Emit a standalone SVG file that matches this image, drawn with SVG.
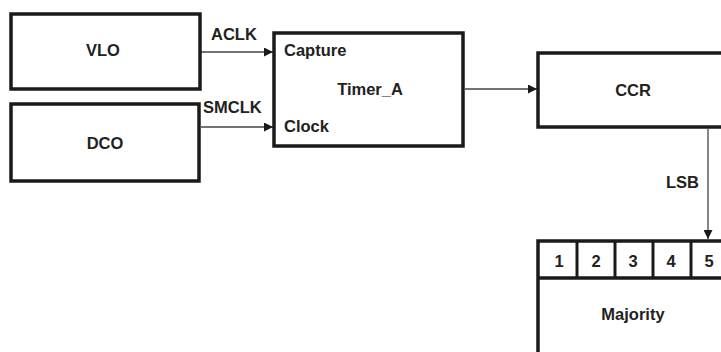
<svg xmlns="http://www.w3.org/2000/svg" width="721" height="352" viewBox="0 0 721 352">
<style>
.box{fill:#fff;stroke:#1a1a1a;stroke-width:3.5}
.t{font-family:"Liberation Sans",Arial,sans-serif;font-weight:bold;font-size:16.5px;fill:#222}
.m{text-anchor:middle}
.c{stroke:#444;stroke-width:1.3;fill:none}
.d{stroke:#1a1a1a;stroke-width:3}
</style>
<defs>
<marker id="ah" viewBox="0 0 10 10" refX="10" refY="5" markerWidth="9" markerHeight="9" markerUnits="userSpaceOnUse" orient="auto">
<path d="M0,0 L10,5 L0,10 z" fill="#1a1a1a"/>
</marker>
</defs>
<rect width="721" height="352" fill="#fff"/>
<g id="connectors">
<line class="c" x1="201" y1="52" x2="273" y2="52" marker-end="url(#ah)"/>
<text class="t" x="211" y="40">ACLK</text>
<line class="c" x1="201" y1="127" x2="273" y2="127" marker-end="url(#ah)"/>
<text class="t" x="203" y="113">SMCLK</text>
<line class="c" x1="465" y1="89" x2="537" y2="89" marker-end="url(#ah)"/>
<line class="c" x1="708" y1="129" x2="708" y2="239" marker-end="url(#ah)"/>
<text class="t" x="666" y="188">LSB</text>
</g>
<g id="vlo">
<rect class="box" x="11" y="14" width="189" height="75"/>
<text class="t m" x="103" y="56">VLO</text>
</g>
<g id="dco">
<rect class="box" x="11" y="104" width="188" height="77"/>
<text class="t m" x="105" y="149">DCO</text>
</g>
<g id="timer_a">
<rect class="box" x="274" y="33" width="189" height="113"/>
<text class="t" x="284" y="56">Capture</text>
<text class="t m" x="370" y="95">Timer_A</text>
<text class="t" x="284" y="132">Clock</text>
</g>
<g id="ccr">
<rect class="box" x="538" y="53" width="200" height="74"/>
<text class="t m" x="633" y="96">CCR</text>
</g>
<g id="majority">
<rect class="box" x="538" y="241" width="200" height="130"/>
<line class="d" x1="538" y1="278" x2="730" y2="278" style="stroke-width:3.5"/>
<line class="d" x1="577" y1="241" x2="577" y2="278"/>
<line class="d" x1="615" y1="241" x2="615" y2="278"/>
<line class="d" x1="653" y1="241" x2="653" y2="278"/>
<line class="d" x1="691" y1="241" x2="691" y2="278"/>
<text class="t m" x="559" y="267">1</text>
<text class="t m" x="596" y="267">2</text>
<text class="t m" x="633" y="267">3</text>
<text class="t m" x="671" y="267">4</text>
<text class="t m" x="709" y="267">5</text>
<text class="t m" x="633" y="320">Majority</text>
</g>
</svg>
